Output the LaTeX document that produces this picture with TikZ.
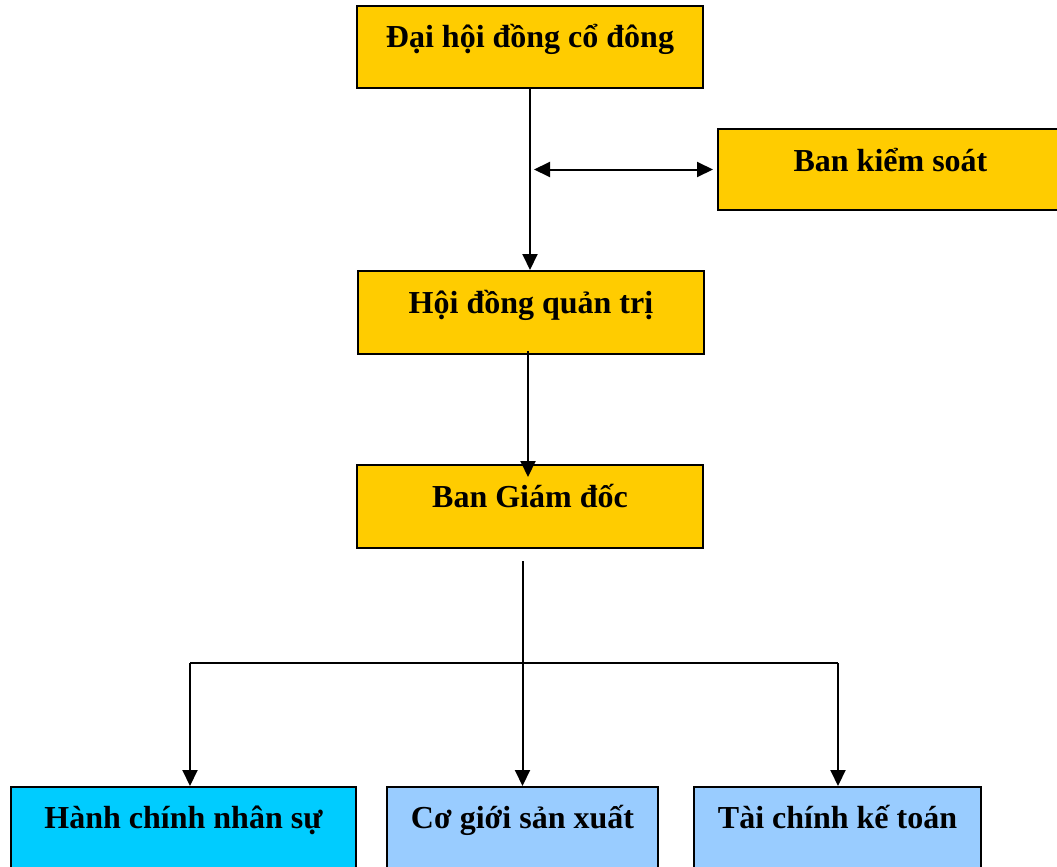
\documentclass[tikz,border=0pt]{standalone}
\usepackage{fontspec}
\setmainfont{Liberation Serif}
\usetikzlibrary{arrows.meta}
\definecolor{boxyellow}{HTML}{FFCC00}
\definecolor{boxcyan}{HTML}{00CCFF}
\definecolor{boxblue}{HTML}{99CCFF}
\tikzset{
  orgbox/.style={draw=black, line width=2pt, rectangle, anchor=north west,
    inner xsep=0pt, inner ysep=0pt, text height=42pt, text depth=40pt,
    font=\fontsize{32}{38}\selectfont\bfseries},
  yellowbox/.style={orgbox, fill=boxyellow},
  lowbox/.style={orgbox, text height=41pt, text depth=60pt},
  conn/.style={line width=2pt, draw=black},
  arr/.style={conn, -{Triangle[width=15pt,length=16pt]}},
  darr/.style={conn, {Triangle[width=15pt,length=16pt]}-{Triangle[width=15pt,length=16pt]}}
}
\begin{document}
\begin{tikzpicture}[x=1pt,y=-1pt]
\useasboundingbox (0,0) rectangle (1057,867);
\clip (0,0) rectangle (1057,867);
\fill[white] (0,0) rectangle (1057,867);

\node[yellowbox, minimum width=346pt] (dh) at (356,5) {Đại hội đồng cổ đông};
\node[yellowbox, minimum width=345pt, text depth=39pt] (bks) at (717,128) {Ban kiểm soát};
\node[yellowbox, minimum width=346pt, text depth=41pt] (hdqt) at (357,270) {Hội đồng quản trị};
\node[yellowbox, minimum width=346pt, text depth=41pt] (bgd) at (356,464) {Ban Giám đốc};

\node[lowbox, fill=boxcyan, minimum width=345pt] (hc) at (10,786) {Hành chính nhân sự};
\node[lowbox, fill=boxblue, minimum width=271pt] (cg) at (386,786) {Cơ giới sản xuất};
\node[lowbox, fill=boxblue, minimum width=287pt] (tc) at (693,786) {Tài chính kế toán};

% top level
\draw[arr] (dh.south) -- (dh.south |- hdqt.north);
\draw[darr] ([xshift=4pt]dh.south |- bks.west) -- ([xshift=-4pt]bks.west);

% HDQT -> BGD
\draw[arr] ([xshift=-3pt,yshift=4pt]hdqt.south) -- ([xshift=-3pt,yshift=-13pt]hdqt.south |- bgd.north);

% BGD -> departments
\coordinate (bl) at (190,663);
\coordinate (br) at (838,663);
\draw[arr] ([yshift=-12pt]bgd.south -| cg.north) -- (cg.north);
\draw[conn] (bl) -- (br);
\draw[arr] (bl) -- (bl |- hc.north);
\draw[arr] (br) -- (br |- tc.north);
\end{tikzpicture}
\end{document}
